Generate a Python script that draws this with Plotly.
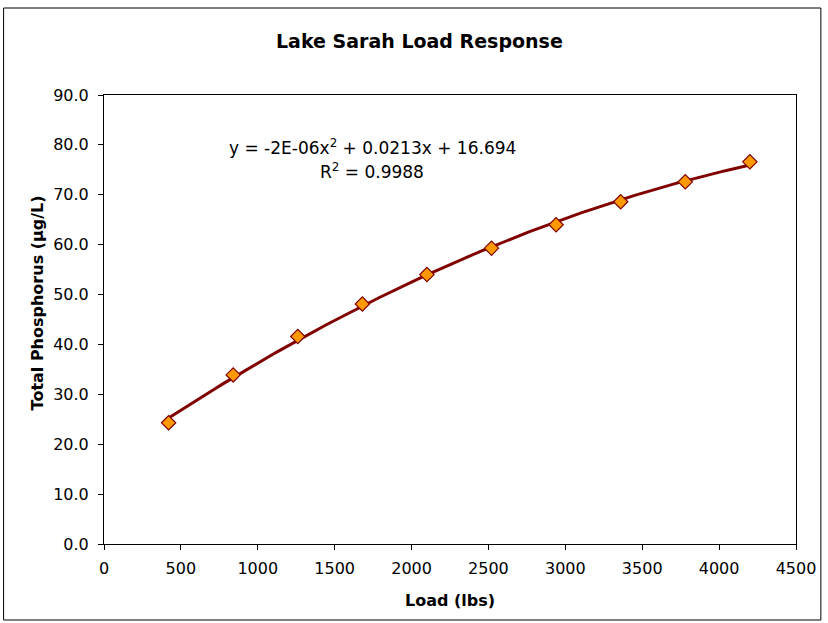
import numpy as np
import plotly.graph_objects as go

load_lbs = [420, 840, 1260, 1680, 2100, 2520, 2940, 3360, 3780, 4200]
total_p = [24.3, 33.9, 41.6, 48.1, 54.0, 59.3, 64.0, 68.6, 72.6, 76.6]
y_ticks = [0, 10, 20, 30, 40, 50, 60, 70, 80, 90]
x_ticks = [0, 500, 1000, 1500, 2000, 2500, 3000, 3500, 4000, 4500]

coef = np.polyfit(load_lbs, total_p, 2)
xf = np.linspace(min(load_lbs), max(load_lbs), 200)
yf = np.polyval(coef, xf)

W, H = 828, 623
L, R, T, B = 104, 28, 95, 79
pw, ph = W - L - R, H - T - B

FONT = "DejaVu Sans"
fig = go.Figure()
fig.add_trace(go.Scatter(x=xf, y=yf, mode="lines",
                         line=dict(color="#800000", width=3), showlegend=False, hoverinfo="skip"))
fig.add_trace(go.Scatter(x=load_lbs, y=total_p, mode="markers",
                         marker=dict(symbol="diamond", size=11, color="#FF9900",
                                     line=dict(color="#800000", width=1.2)),
                         showlegend=False))

def px_x(p):
    return (p - L) / pw

def px_y(p):
    return (H - B - p) / ph

fig.update_layout(
    width=W, height=H,
    margin=dict(l=L, r=R, t=T, b=B),
    paper_bgcolor="white", plot_bgcolor="white",
    font=dict(family=FONT, size=16, color="black"),
    xaxis=dict(range=[0, 4500], tickvals=x_ticks, ticks="outside", ticklen=5,
               tickcolor="black", showline=True, linecolor="black", linewidth=1,
               mirror=True, showgrid=False, zeroline=False, ticklabelstandoff=5,
               tickfont=dict(size=16, family=FONT)),
    yaxis=dict(range=[0, 90], tickvals=y_ticks, tickformat=".1f", ticks="outside", ticklen=5,
               tickcolor="black", showline=True, linecolor="black", linewidth=1,
               mirror=True, showgrid=False, zeroline=False, ticklabelstandoff=6,
               tickfont=dict(size=16, family=FONT)),
    shapes=[dict(type="rect", xref="paper", yref="paper",
                 x0=px_x(3), x1=px_x(825), y0=px_y(620), y1=px_y(8),
                 line=dict(color="black", width=1), fillcolor="rgba(0,0,0,0)", layer="below")],
    annotations=[
        dict(text="<b>Lake Sarah Load Response</b>", xref="paper", yref="paper",
             x=px_x(421.5), y=px_y(41), xanchor="center", yanchor="middle",
             showarrow=False, font=dict(size=19, family=FONT)),
        dict(text="<b>Load (lbs)</b>", xref="paper", yref="paper",
             x=px_x(452), y=px_y(600), xanchor="center", yanchor="middle",
             showarrow=False, font=dict(size=16, family=FONT)),
        dict(text="<b>Total Phosphorus (µg/L)</b>", xref="paper", yref="paper",
             x=px_x(37), y=px_y(303), xanchor="center", yanchor="middle", textangle=-90,
             showarrow=False, font=dict(size=16, family=FONT)),
        dict(text="y = -2E-06x<sup>2</sup> + 0.0213x + 16.694", xref="paper", yref="paper",
             x=px_x(374), y=px_y(147), xanchor="center", yanchor="middle",
             showarrow=False, font=dict(size=17, family=FONT)),
        dict(text="R<sup>2</sup> = 0.9988", xref="paper", yref="paper",
             x=px_x(374), y=px_y(171), xanchor="center", yanchor="middle",
             showarrow=False, font=dict(size=17, family=FONT)),
    ],
)
fig.write_html("out.html", config={"displayModeBar": False},
               post_script="document.body.style.margin='0px';document.body.style.padding='0px';document.body.style.overflow='hidden';document.documentElement.style.overflow='hidden';")
